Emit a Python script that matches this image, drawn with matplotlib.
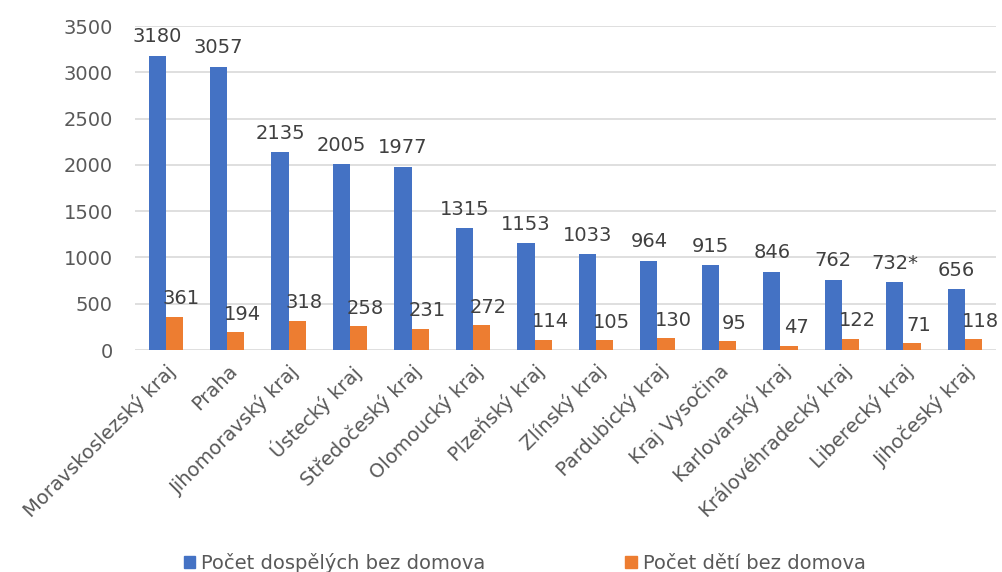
import matplotlib.pyplot as plt
import numpy as np
from matplotlib.patches import Patch

kraje = ['Moravskoslezský kraj', 'Praha', 'Jihomoravský kraj', 'Ústecký kraj',
         'Středočeský kraj', 'Olomoucký kraj', 'Plzeňský kraj', 'Zlínský kraj',
         'Pardubický kraj', 'Kraj Vysočina', 'Karlovarský kraj',
         'Královéhradecký kraj', 'Liberecký kraj', 'Jihočeský kraj']
dospeli = [3180, 3057, 2135, 2005, 1977, 1315, 1153, 1033, 964, 915, 846, 762, 732, 656]
deti = [361, 194, 318, 258, 231, 272, 114, 105, 130, 95, 47, 122, 71, 118]
dospeli_popisky = ['3180', '3057', '2135', '2005', '1977', '1315', '1153', '1033',
                   '964', '915', '846', '762', '732*', '656']

modra = '#4472C4'
oranzova = '#ED7D31'
seda_text = '#595959'

fig = plt.figure(figsize=(10.03, 5.72), dpi=100)
ax = fig.add_axes([0.1346, 0.388, 0.858, 0.5665])

x = np.arange(len(kraje))
w = 0.28
ax.bar(x - w/2, dospeli, w, color=modra, zorder=3)
ax.bar(x + w/2, deti, w, color=oranzova, zorder=3)

for i in range(len(kraje)):
    ax.annotate(dospeli_popisky[i], (x[i] - w/2, dospeli[i]), xytext=(0, 7),
                textcoords='offset points', ha='center', va='bottom',
                fontsize=14, color='#404040')
    ax.annotate(str(deti[i]), (x[i] + w/2, deti[i]), xytext=(5, 6),
                textcoords='offset points', ha='center', va='bottom',
                fontsize=14, color='#404040')

ax.set_xlim(-0.5, len(kraje) - 0.5)
ax.set_ylim(0, 3500)
ax.set_yticks(range(0, 3501, 500))
ax.yaxis.grid(True, color='#d9d9d9', linewidth=1.2, zorder=0)
for s in ax.spines.values():
    s.set_visible(False)
ax.tick_params(axis='both', length=0, labelsize=14, colors=seda_text)
ax.tick_params(axis='y', pad=16)
ax.set_xticks(x)
ax.set_xticklabels(kraje, rotation=45, ha='right', rotation_mode='anchor',
                   fontsize=14)
ax.tick_params(axis='x', pad=8)

handles = [Patch(color=modra, label='Počet dospělých bez domova'),
           Patch(color=oranzova, label='Počet dětí bez domova')]
fig.legend(handles=handles, loc='center', bbox_to_anchor=(0.523, 0.016),
           ncol=2, frameon=False, fontsize=14, handlelength=0.6,
           handleheight=0.6, handletextpad=0.3, columnspacing=7.2,
           labelcolor=seda_text)

fig.savefig('out.png', dpi=100)
